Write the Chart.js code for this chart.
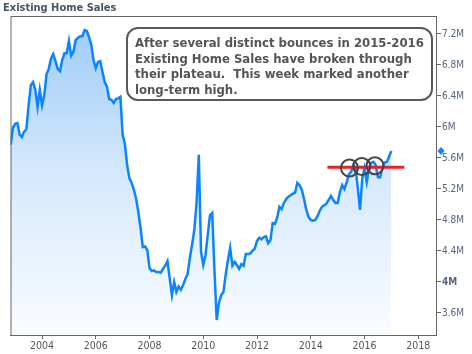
<!DOCTYPE html>
<html><head><meta charset="utf-8">
<script src="https://cdn.jsdelivr.net/npm/chart.js@4"></script>
<style>html,body{margin:0;padding:0;background:#fff}#wrap{width:472px;height:354px;position:relative}</style>
</head><body><div id="wrap"><canvas id="c" width="472" height="354"></canvas></div>
<script>
// ---- data ----
const chartTitle = 'Existing Home Sales';
const firstMonth = 2002 + 10 / 12; // Nov 2002, monthly series
const sales = [ // millions, SAAR
  5.77, 5.99, 6.04, 6.05, 5.90, 5.87, 5.94, 5.97, 6.28, 6.54,
  6.58, 6.48, 6.26, 6.48, 6.28, 6.41, 6.68, 6.75, 6.88, 6.94,
  6.85, 6.75, 6.72, 6.86, 6.95, 6.95, 7.11, 6.92, 6.97, 7.12,
  7.15, 7.17, 7.17, 7.25, 7.24, 7.16, 7.06, 6.86, 6.76, 6.84,
  6.85, 6.71, 6.58, 6.52, 6.36, 6.35, 6.31, 6.36, 6.37, 6.39,
  5.90, 5.78, 5.51, 5.34, 5.28, 5.19, 5.08, 4.90, 4.70, 4.45,
  4.46, 4.41, 4.18, 4.14, 4.15, 4.13, 4.13, 4.12, 4.17, 4.21,
  4.27, 4.05, 3.83, 4.00, 3.87, 3.94, 3.90, 3.96, 4.04, 4.10,
  4.31, 4.48, 4.67, 5.02, 5.64, 4.39, 4.22, 4.34, 4.61, 4.86,
  4.89, 4.15, 3.51, 3.73, 3.83, 3.87, 4.09, 4.28, 4.44, 4.21,
  4.26, 4.22, 4.17, 4.23, 4.21, 4.36, 4.36, 4.37, 4.40, 4.43,
  4.53, 4.57, 4.55, 4.58, 4.59, 4.50, 4.54, 4.76, 4.75, 4.83,
  4.97, 4.94, 5.02, 5.07, 5.10, 5.12, 5.14, 5.15, 5.28, 5.25,
  5.19, 5.07, 4.93, 4.84, 4.80, 4.79, 4.80, 4.85, 4.92, 4.97,
  4.99, 5.01, 5.06, 5.11, 5.06, 5.02, 5.02, 5.16, 5.25, 5.20,
  5.28, 5.39, 5.42, 5.51, 5.47, 5.21, 4.93, 5.34, 5.47, 5.29,
  5.47, 5.54, 5.55, 5.51, 5.35, 5.35, 5.48, 5.54, 5.55, 5.62,
  5.69
];
const xTicks = [2004, 2006, 2008, 2010, 2012, 2014, 2016, 2018];
const yTicks = [3.6, 4.0, 4.4, 4.8, 5.2, 5.6, 6.0, 6.4, 6.8, 7.2];
const yTickLabels = ['3.6M', '4M', '4.4M', '4.8M', '5.2M', '5.6M', '6M', '6.4M', '6.8M', '7.2M'];
const boldTick = 4.0;
const plateauX = [2014.62, 2017.48];
const plateauY = [5.48, 5.48];
const bounceX = [2015.44, 2015.90, 2016.39];
const bounceY = [5.47, 5.49, 5.50];
const latestValue = 5.69;
const noteLines = [
  'After several distinct bounces in 2015-2016',
  'Existing Home Sales have broken through',
  'their plateau.  This week marked another',
  'long-term high.'
];

// ---- chart ----
const FAM = '"DejaVu Sans Condensed", "DejaVu Sans", sans-serif';
const salesPts = sales.map((v, i) => ({ x: firstMonth + i / 12, y: v }));
const plateauPts = plateauX.map((x, i) => ({ x, y: plateauY[i] }));
const bouncePts = bounceX.map((x, i) => ({ x, y: bounceY[i] }));

const deco = {
  id: 'deco',
  afterDraw(chart) {
    const ctx = chart.ctx, a = chart.chartArea;
    ctx.save();
    // title
    ctx.fillStyle = '#485466';
    ctx.font = 'bold 11px ' + FAM;
    ctx.textBaseline = 'middle';
    ctx.textAlign = 'left';
    ctx.fillText(chartTitle, 3, 8);
    // frame left/top
    ctx.strokeStyle = '#666';
    ctx.lineWidth = 1;
    ctx.beginPath();
    ctx.moveTo(a.left + 0.5, a.bottom);
    ctx.lineTo(a.left + 0.5, a.top + 0.5);
    ctx.lineTo(a.right, a.top + 0.5);
    ctx.stroke();
    // latest-value diamond on the axis
    const ys = chart.scales.y;
    const py = ys.getPixelForValue(latestValue);
    const px = a.right + 5;
    ctx.fillStyle = '#0a84ff';
    ctx.beginPath();
    ctx.moveTo(px, py - 4); ctx.lineTo(px + 3.5, py); ctx.lineTo(px, py + 4); ctx.lineTo(px - 3.5, py);
    ctx.closePath(); ctx.fill();
    // note box
    const bx = 127, by = 28, bw = 305, bh = 72, r = 11;
    ctx.beginPath();
    ctx.roundRect(bx, by, bw, bh, r);
    ctx.fillStyle = '#fff';
    ctx.fill();
    ctx.lineWidth = 2;
    ctx.strokeStyle = '#5a5a5a';
    ctx.stroke();
    // note text, fitted to width
    let size = 14;
    const maxW = 293;
    do {
      ctx.font = 'bold ' + size + 'px ' + FAM;
      if (Math.max(...noteLines.map(l => ctx.measureText(l).width)) <= maxW) break;
      size -= 0.25;
    } while (size > 8);
    ctx.fillStyle = '#555';
    ctx.textBaseline = 'middle';
    noteLines.forEach((l, i) => ctx.fillText(l, 135, 44 + i * 15.5));
    ctx.restore();
  }
};

new Chart(document.getElementById('c'), {
  type: 'line',
  data: {
    datasets: [
      {
        data: bouncePts, showLine: false, pointRadius: 8.5, pointHoverRadius: 8.5,
        pointBorderColor: '#444', pointBorderWidth: 2, pointBackgroundColor: 'rgba(0,0,0,0)', order: 1
      },
      {
        data: plateauPts, borderColor: '#e8202a', borderWidth: 3, pointRadius: 0, fill: false, order: 2
      },
      {
        data: salesPts, borderColor: '#0a84ff', borderWidth: 2.5, pointRadius: 0, tension: 0,
        fill: 'start', order: 3,
        backgroundColor: (c) => {
          const a = c.chart.chartArea;
          if (!a) return 'rgba(0,0,0,0)';
          const g = c.chart.ctx.createLinearGradient(0, a.top, 0, a.bottom);
          g.addColorStop(0, '#9ccaf8');
          g.addColorStop(0.5, '#d6e9fc');
          g.addColorStop(1, '#fafcff');
          return g;
        }
      }
    ]
  },
  options: {
    responsive: false, animation: false, devicePixelRatio: 1,
    layout: { padding: { left: 4, top: 16, right: 0, bottom: 0 } },
    plugins: { legend: { display: false }, tooltip: { enabled: false }, title: { display: false } },
    scales: {
      x: {
        type: 'linear', min: 2002.827, max: 2018.66,
        afterBuildTicks: s => { s.ticks = xTicks.map(v => ({ value: v })); },
        afterFit: s => { s.height = 19; },
        grid: { display: true, drawOnChartArea: false, drawTicks: true, tickLength: 4, color: '#666' },
        border: { display: true, color: '#666' },
        ticks: { padding: 1, color: '#555', autoSkip: false, maxRotation: 0, font: { family: FAM, size: 10.5 }, callback: v => String(v) }
      },
      y: {
        type: 'linear', position: 'right', min: 3.316, max: 7.432,
        afterBuildTicks: s => { s.ticks = yTicks.map(v => ({ value: v })); },
        afterFit: s => { s.width = 36; },
        grid: { display: true, drawOnChartArea: false, drawTicks: true, tickLength: 5, color: '#666' },
        border: { display: true, color: '#666' },
        ticks: {
          padding: 1, color: '#56657e', autoSkip: false,
          font: c => ({ family: FAM, size: 10, weight: (c.tick && Math.abs(c.tick.value - boldTick) < 1e-9) ? 'bold' : 'normal' }),
          callback: v => yTickLabels[yTicks.findIndex(t => Math.abs(t - v) < 1e-9)]
        }
      }
    }
  },
  plugins: [deco]
});
</script></body></html>
